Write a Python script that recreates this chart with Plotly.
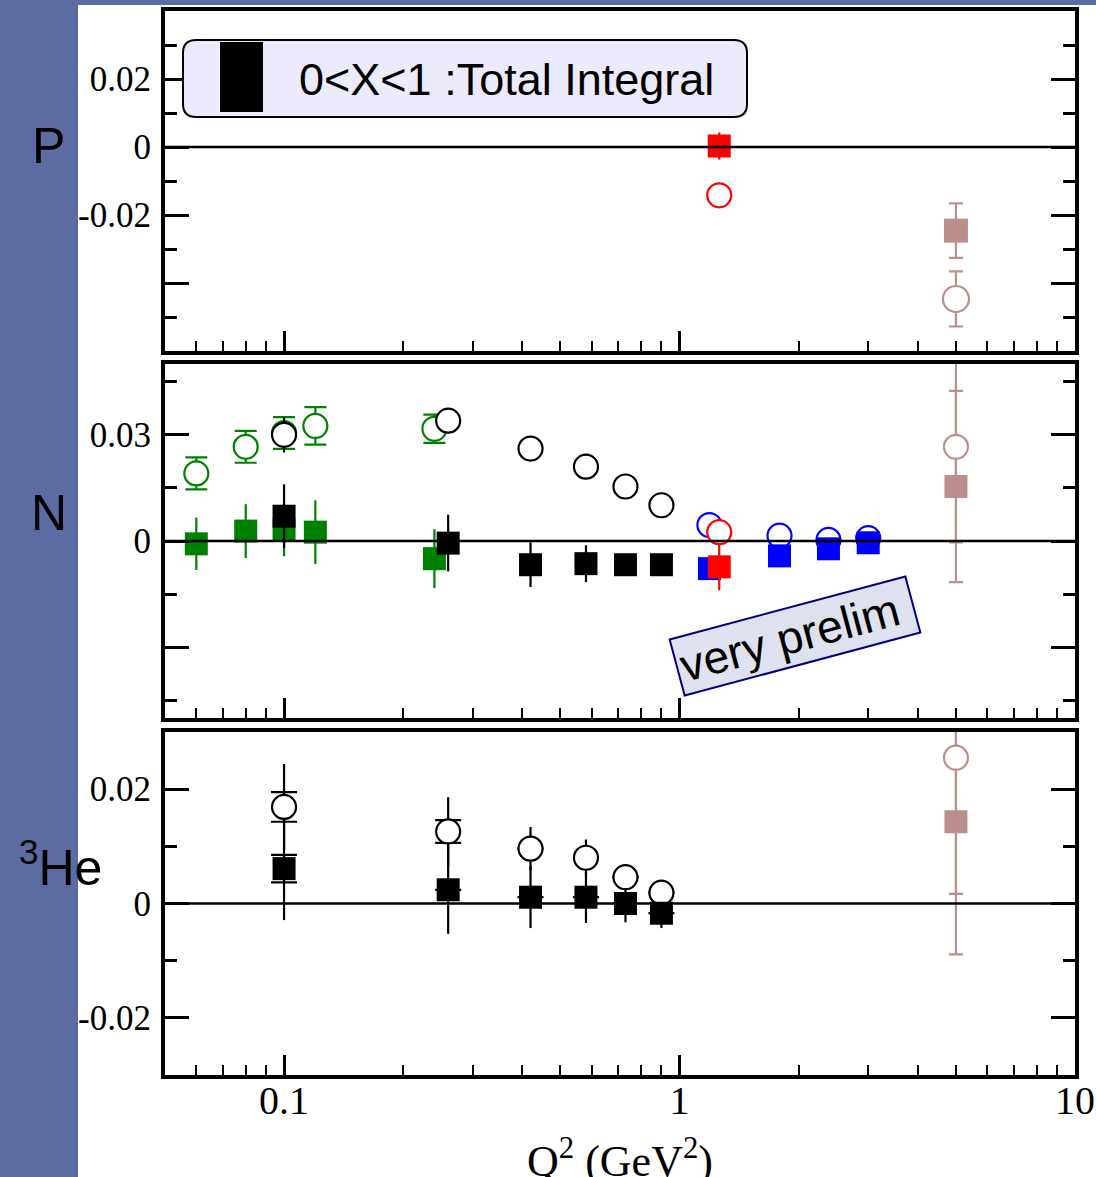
import math
import plotly.graph_objects as go

# ---------------- data ----------------
# Proton panel
P_red_x = [1.26]
P_red_sq_y = [0.0003]
P_red_sq_err = [0.004]
P_red_ci_y = [-0.0142]
P_brown_x = [5.0]
P_brown_sq_y = [-0.0246]
P_brown_sq_err = [0.008]
P_brown_ci_y = [-0.0447]
P_brown_ci_err = [0.0081]

# Neutron panel
N_green_ci_x = [0.06, 0.08, 0.1, 0.12, 0.24]
N_green_ci_y = [0.0191, 0.0266, 0.0305, 0.0325, 0.0317]
N_green_ci_err = [0.0045, 0.0045, 0.0045, 0.0053, 0.004]
N_green_sq_x = [0.06, 0.08, 0.1, 0.12, 0.24]
N_green_sq_y = [-0.0008, 0.0028, 0.0032, 0.0025, -0.005]
N_green_sq_err = [0.0074, 0.0076, 0.0075, 0.009, 0.0083]
N_black_x = [0.1, 0.26, 0.42, 0.58, 0.73, 0.9]
N_black_ci_y = [0.030, 0.034, 0.0261, 0.021, 0.0154, 0.0101]
N_black_ci_err = [0.005, 0.0, 0.0, 0.0, 0.0, 0.0]
N_black_sq_y = [0.007, -0.0006, -0.0067, -0.0064, -0.0067, -0.0067]
N_black_sq_err = [0.009, 0.008, 0.0063, 0.0052, 0.003, 0.002]
N_blue_x = [1.19, 1.79, 2.38, 3.0]
N_blue_ci_y = [0.0045, 0.0015, 0.0003, 0.0008]
N_blue_sq_y = [-0.0078, -0.0042, -0.0022, -0.0005]
N_red_x = [1.26]
N_red_ci_y = [0.0025]
N_red_sq_y = [-0.0073]
N_red_sq_err = [0.0066]
N_brown_x = [5.0]
N_brown_ci_y = [0.0266]
N_brown_ci_err = [0.027]
N_brown_sq_y = [0.0154]
N_brown_sq_err = [0.027]

# 3He panel
He_black_x = [0.1, 0.26, 0.42, 0.58, 0.73, 0.9]
He_ci_y = [0.0169, 0.0126, 0.0096, 0.008, 0.0046, 0.0019]
He_ci_stat = [0.0026, 0.002, 0.0, 0.0, 0.0, 0.0]
He_ci_tot = [0.0075, 0.006, 0.0038, 0.0032, 0.001, 0.0008]
He_sq_y = [0.0061, 0.0024, 0.0011, 0.0011, 0.0, -0.0017]
He_sq_stat = [0.0024, 0.0, 0.0, 0.0, 0.0, 0.0]
He_sq_tot = [0.009, 0.0077, 0.0054, 0.0045, 0.0033, 0.0026]
He_brown_x = [5.0]
He_brown_ci_y = [0.0255]
He_brown_ci_err = [0.0238]
He_brown_sq_y = [0.0143]
He_brown_sq_err = [0.0232]

x_tickvals = [0.1, 1, 10]
x_ticktext = ["0.1", "1", "10"]
x_minor = [0.06, 0.07, 0.08, 0.09, 0.2, 0.3, 0.4, 0.5, 0.6, 0.7, 0.8, 0.9,
           2, 3, 4, 5, 6, 7, 8, 9]

y1_tickvals = [-0.04, -0.02, 0, 0.02]
y1_ticktext = ["", "-0.02", "0", "0.02"]
y1_minor = [-0.05, -0.03, -0.01, 0.01, 0.03]
y2_tickvals = [-0.03, 0, 0.03]
y2_ticktext = ["", "0", "0.03"]
y2_minor = [-0.045, -0.015, 0.015, 0.045]
y3_tickvals = [-0.02, 0, 0.02]
y3_ticktext = ["-0.02", "0", "0.02"]
y3_minor = [-0.01, 0.01]

# ---------------- style ----------------
GREEN = "#008000"
BLUE = "#0000ff"
RED = "#ff0000"
BROWN = "#bc8f8f"
BLACK = "#000000"
STRIP = "#5d6ba3"
SERIF = "Liberation Serif, Times New Roman, serif"
SANS = "Liberation Sans, Arial, sans-serif"

W, H = 1096, 1177
L, R, T, B = 165, 1075, 11, 1075


def px(xp):
    return (xp - L) / (R - L)


def py(yp):
    return (B - yp) / (B - T)


fig = go.Figure()


def add(x, y, axis, symbol, color, size, err=None, capw=0, fill=None,
        hide_marker=False, errcolor=None):
    xa, ya = axis
    marker = dict(symbol=symbol, size=size, color=fill if fill else color,
                  line=dict(color=color, width=2.2 if fill else 0))
    if hide_marker:
        marker = dict(size=1, color="rgba(0,0,0,0)")
    tr = go.Scatter(x=x, y=y, mode="markers", marker=marker, xaxis=xa, yaxis=ya,
                    showlegend=False, hoverinfo="skip")
    if err is not None:
        tr.error_y = dict(type="data", array=err, visible=True,
                          color=errcolor or color, thickness=2.2, width=capw)
    fig.add_trace(tr)


A1, A2, A3 = ("x", "y"), ("x2", "y2"), ("x3", "y3")
SQ, CI = 23, 24

# P panel
add(P_red_x, P_red_ci_y, A1, "circle", RED, CI, fill="white")
add(P_red_x, P_red_sq_y, A1, "square", RED, SQ, err=P_red_sq_err)
add(P_brown_x, P_brown_sq_y, A1, "square", BROWN, 24, err=P_brown_sq_err, capw=7)
add(P_brown_x, P_brown_ci_y, A1, "circle", BROWN, 26, err=P_brown_ci_err, capw=7, fill="white")

# N panel
add(N_green_ci_x, N_green_ci_y, A2, "circle", GREEN, CI, err=N_green_ci_err, capw=11, fill="white")
add(N_green_sq_x, N_green_sq_y, A2, "square", GREEN, SQ, err=N_green_sq_err)
add(N_black_x, N_black_ci_y, A2, "circle", BLACK, CI, err=N_black_ci_err, fill="white")
add(N_black_x, N_black_sq_y, A2, "square", BLACK, SQ, err=N_black_sq_err)
add(N_blue_x, N_blue_ci_y, A2, "circle", BLUE, CI, fill="white")
add(N_blue_x, N_blue_sq_y, A2, "square", BLUE, SQ)
add(N_red_x, N_red_ci_y, A2, "circle", RED, CI, fill="white")
add(N_red_x, N_red_sq_y, A2, "square", RED, SQ, err=N_red_sq_err)
add(N_brown_x, N_brown_sq_y, A2, "square", BROWN, SQ, err=N_brown_sq_err, capw=7)
add(N_brown_x, N_brown_ci_y, A2, "circle", BROWN, CI, err=N_brown_ci_err, capw=7, fill="white")

# 3He panel
add(He_black_x, He_ci_y, A3, "circle", BLACK, CI, err=He_ci_tot, hide_marker=True)
add(He_black_x, He_sq_y, A3, "square", BLACK, SQ, err=He_sq_tot, hide_marker=True)
add(He_black_x, He_ci_y, A3, "circle", BLACK, CI, err=He_ci_stat, capw=13, fill="white")
add(He_black_x, He_sq_y, A3, "square", BLACK, SQ, err=He_sq_stat, capw=13)
add(He_brown_x, He_brown_sq_y, A3, "square", BROWN, SQ, err=He_brown_sq_err, capw=7)
add(He_brown_x, He_brown_ci_y, A3, "circle", BROWN, CI, err=He_brown_ci_err, capw=7, fill="white")

# ---------------- axes ----------------
xr = [math.log10(0.05), 1]


def xaxis(show_labels, anchor):
    return dict(type="log", range=xr, domain=[0, 1], anchor=anchor,
                showline=True, linewidth=4, linecolor="black", mirror=True,
                ticks="inside", ticklen=20, tickwidth=2.5, tickcolor="black",
                tickmode="array", tickvals=x_tickvals, ticktext=x_ticktext,
                showticklabels=show_labels, showgrid=False, zeroline=False,
                tickfont=dict(family=SERIF, size=40, color="black"),
                ticklabelstandoff=-13,
                minor=dict(tickmode="array", tickvals=x_minor, ticks="inside",
                           ticklen=10, tickwidth=2, tickcolor="black", showgrid=False))


def yaxis(rng, tv, tt, mn, dom, anchor):
    return dict(range=rng, domain=dom, anchor=anchor,
                showline=True, linewidth=4, linecolor="black", mirror="allticks",
                ticks="inside", ticklen=24, tickwidth=3, tickcolor="black",
                tickmode="array", tickvals=tv, ticktext=tt,
                showgrid=False, zeroline=False,
                tickfont=dict(family=SERIF, size=35, color="black"),
                ticklabelstandoff=3,
                minor=dict(tickmode="array", tickvals=mn, ticks="inside",
                           ticklen=12, tickwidth=2.5, tickcolor="black", showgrid=False))


dom1 = [py(351), 1.0]
dom2 = [py(718), py(364)]
dom3 = [0.0, py(732)]

shapes = []
# background strips
shapes.append(dict(type="rect", xref="paper", yref="paper", x0=px(-2), x1=px(78),
                   y0=py(H + 2), y1=py(-2), fillcolor=STRIP, line=dict(width=0), layer="below"))
shapes.append(dict(type="rect", xref="paper", yref="paper", x0=px(-2), x1=px(W + 2),
                   y0=py(5), y1=py(-2), fillcolor=STRIP, line=dict(width=0), layer="below"))
# zero lines on top
for xd, yr in (("x domain", "y"), ("x2 domain", "y2"), ("x3 domain", "y3")):
    shapes.append(dict(type="line", xref=xd, yref=yr, x0=0, x1=1, y0=0, y1=0,
                       line=dict(color="black", width=2.5), layer="above"))


# rounded legend box
def rounded(x0, y0, x1, y1, r):
    X = px
    Y = py
    pts = [
        f"M {X(x0 + r)},{Y(y0)}",
        f"L {X(x1 - r)},{Y(y0)}",
        f"Q {X(x1)},{Y(y0)} {X(x1)},{Y(y0 + r)}",
        f"L {X(x1)},{Y(y1 - r)}",
        f"Q {X(x1)},{Y(y1)} {X(x1 - r)},{Y(y1)}",
        f"L {X(x0 + r)},{Y(y1)}",
        f"Q {X(x0)},{Y(y1)} {X(x0)},{Y(y1 - r)}",
        f"L {X(x0)},{Y(y0 + r)}",
        f"Q {X(x0)},{Y(y0)} {X(x0 + r)},{Y(y0)} Z",
    ]
    return " ".join(pts)


shapes.append(dict(type="path", xref="paper", yref="paper", path=rounded(183, 40, 747, 117, 13),
                   fillcolor="#ebebfb", line=dict(color="black", width=2), layer="above"))
shapes.append(dict(type="rect", xref="paper", yref="paper", x0=px(220), x1=px(263),
                   y0=py(112), y1=py(42), fillcolor="black", line=dict(width=0), layer="above"))

annotations = [
    dict(text="0<X<1 :Total Integral", xref="paper", yref="paper", x=px(297), y=py(79),
         xanchor="left", yanchor="middle", showarrow=False,
         font=dict(family=SANS, size=45, color="black")),
    dict(text="P", xref="paper", yref="paper", x=px(48), y=py(146),
         xanchor="center", yanchor="middle", showarrow=False,
         font=dict(family=SANS, size=50, color="black")),
    dict(text="N", xref="paper", yref="paper", x=px(49), y=py(513),
         xanchor="center", yanchor="middle", showarrow=False,
         font=dict(family=SANS, size=50, color="black")),
    dict(text="<sup>3</sup>He", xref="paper", yref="paper", x=px(60), y=py(864),
         xanchor="center", yanchor="middle", showarrow=False,
         font=dict(family=SANS, size=50, color="black")),
    dict(text="very prelim", xref="paper", yref="paper", x=px(795), y=py(636),
         xanchor="center", yanchor="middle", showarrow=False, textangle=-15,
         width=236, height=50, align="left", valign="middle",
         bgcolor="#dfe2ee", bordercolor="#000080", borderwidth=2, borderpad=3,
         font=dict(family=SANS, size=46, color="black")),
    dict(text="Q<sup>2</sup> (GeV<sup>2</sup>)", xref="paper", yref="paper",
         x=px(620), y=py(1158), xanchor="center", yanchor="middle", showarrow=False,
         font=dict(family=SERIF, size=44, color="black")),
]

fig.update_layout(
    width=W, height=H, autosize=False,
    margin=dict(l=L, r=W - R, t=T, b=H - B, pad=0, autoexpand=False),
    paper_bgcolor="white", plot_bgcolor="white",
    showlegend=False,
    xaxis=xaxis(False, "y"),
    xaxis2=xaxis(False, "y2"),
    xaxis3=xaxis(True, "y3"),
    yaxis=yaxis([-0.06, 0.04], y1_tickvals, y1_ticktext, y1_minor, dom1, "x"),
    yaxis2=yaxis([-0.05, 0.05], y2_tickvals, y2_ticktext, y2_minor, dom2, "x2"),
    yaxis3=yaxis([-0.03, 0.03], y3_tickvals, y3_ticktext, y3_minor, dom3, "x3"),
    shapes=shapes,
    annotations=annotations,
)
fig.update_xaxes(matches="x")

fig.write_html("out.html", config={"responsive": False})
